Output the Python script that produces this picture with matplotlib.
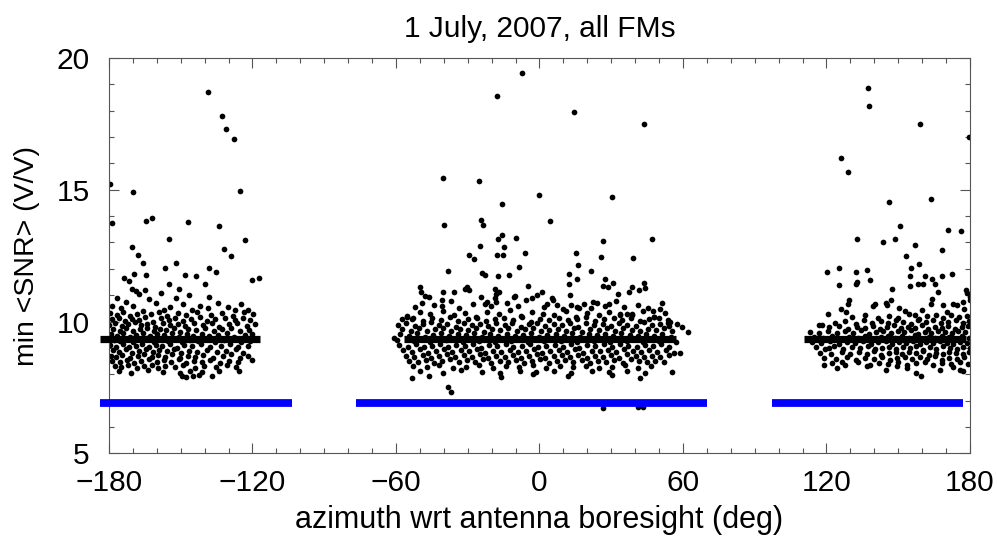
import numpy as np
import matplotlib
matplotlib.use("Agg")  # no display
import matplotlib.pyplot as plt
from matplotlib.ticker import MultipleLocator

plt.rcParams["font.family"] = ["Liberation Sans", "DejaVu Sans"]

# ── data (azimuth deg, min <SNR> V/V) ─────────────────────────────────────

left_pts = [
    # upper scatter
    (-179.6, 15.23), (-178.9, 13.75), (-169.8, 14.91), (-138.7, 18.72), (-132.8, 17.8),
    (-131.1, 17.32), (-127.7, 16.94), (-125.2, 14.96), (-164.7, 13.80), (-161.9, 13.92),
    (-146.8, 13.78), (-133.9, 13.64), (-155.0, 13.13), (-123.3, 13.11), (-170.4, 12.84),
    (-131.9, 12.76), (-168.0, 12.54), (-165.7, 12.24), (-129.1, 12.50), (-173.9, 11.65),
    (-171.6, 11.52), (-169.7, 11.80), (-164.7, 11.78), (-156.5, 12.03), (-152.0, 12.23),
    (-138.3, 12.03), (-135.1, 11.89), (-148.4, 11.75), (-143.5, 11.71), (-155.1, 11.44),
    (-140.0, 11.43), (-120.1, 11.59), (-117.3, 11.67), (-170.4, 11.23), (-150.6, 11.25),
    (-176.5, 10.9), (-172.8, 10.75), (-170.1, 10.6), (-167.4, 11.05), (-163.2, 10.85),
    (-160.3, 10.7), (-158.2, 11.1), (-154.6, 10.55), (-151.9, 10.9), (-149.0, 10.65),
    (-145.3, 10.45), (-142.1, 10.6), (-138.7, 10.5), (-134.4, 10.7), (-130.2, 10.55),
    (-127.5, 10.45), (-124.8, 10.65), (-121.9, 10.45), (-168.7, 11.15), (-165.0, 11.2),
    (-157.0, 10.45), (-174.8, 10.5), (-178.9, 10.6), (-146.5, 11.0), (-138.0, 10.95),
    # core
    (-179.5, 10.32), (-176.8, 10.25), (-174.0, 10.38), (-171.3, 10.22), (-168.2, 10.30),
    (-165.9, 10.41), (-162.4, 10.27), (-159.0, 10.35), (-155.7, 10.20), (-151.2, 10.33),
    (-147.8, 10.26), (-143.0, 10.37), (-137.5, 10.24), (-132.8, 10.31), (-128.0, 10.22),
    (-123.6, 10.36), (-119.8, 10.28),
    (-178.7, 10.08), (-175.9, 10.15), (-173.1, 10.02), (-170.4, 10.11), (-167.6, 10.05),
    (-164.8, 10.17), (-161.5, 10.00), (-158.3, 10.12), (-155.0, 10.06), (-152.4, 10.14),
    (-149.1, 10.03), (-145.7, 10.10), (-141.9, 10.16), (-139.0, 10.01), (-135.6, 10.09),
    (-131.4, 10.13), (-127.3, 10.04), (-124.0, 10.12), (-121.1, 10.07),
    (-179.8, 9.88), (-177.3, 9.94), (-174.6, 9.83), (-172.0, 9.91), (-169.2, 9.97),
    (-166.5, 9.85), (-163.9, 9.92), (-160.8, 9.80), (-157.4, 9.95), (-154.3, 9.87),
    (-151.0, 9.90), (-148.2, 9.82), (-144.6, 9.96), (-140.7, 9.86), (-137.1, 9.93),
    (-133.9, 9.81), (-130.0, 9.89), (-126.5, 9.95), (-122.4, 9.84), (-119.0, 9.90),
    (-178.2, 9.72), (-175.5, 9.66), (-172.8, 9.75), (-170.0, 9.63), (-167.1, 9.70),
    (-164.3, 9.77), (-161.2, 9.65), (-158.7, 9.73), (-156.0, 9.68), (-152.9, 9.76),
    (-150.1, 9.62), (-146.9, 9.71), (-143.5, 9.67), (-139.8, 9.74), (-136.2, 9.64),
    (-132.7, 9.70), (-128.9, 9.76), (-125.1, 9.63), (-121.6, 9.69),
    (-179.3, 9.52), (-176.6, 9.46), (-174.0, 9.55), (-171.4, 9.43), (-168.5, 9.50),
    (-165.6, 9.57), (-162.9, 9.45), (-159.8, 9.53), (-157.1, 9.48), (-153.8, 9.56),
    (-150.8, 9.42), (-147.5, 9.51), (-144.8, 9.47), (-141.2, 9.54), (-138.3, 9.44),
    (-134.5, 9.50), (-130.8, 9.56), (-127.8, 9.43), (-123.2, 9.49), (-120.1, 9.53),
    (-178.0, 9.31), (-175.2, 9.25), (-172.5, 9.34), (-169.8, 9.22), (-166.8, 9.29),
    (-164.0, 9.36), (-161.0, 9.24), (-158.0, 9.32), (-155.3, 9.27), (-152.1, 9.35),
    (-149.4, 9.21), (-146.2, 9.30), (-142.7, 9.26), (-139.4, 9.33), (-135.8, 9.23),
    (-132.1, 9.29), (-128.4, 9.35), (-124.6, 9.22), (-121.0, 9.28),
    (-179.6, 9.11), (-176.9, 9.05), (-174.3, 9.14), (-171.7, 9.02), (-168.9, 9.09),
    (-166.2, 9.16), (-163.4, 9.04), (-160.5, 9.12), (-157.8, 9.07), (-154.6, 9.15),
    (-151.5, 9.01), (-148.6, 9.10), (-145.4, 9.06), (-141.6, 9.13), (-137.7, 9.03),
    (-133.3, 9.09), (-129.6, 9.15), (-126.0, 9.02), (-122.0, 9.08),
    (-178.4, 8.91), (-175.7, 8.85), (-173.0, 8.94), (-170.3, 8.82), (-167.5, 8.89),
    (-164.6, 8.96), (-161.7, 8.84), (-158.9, 8.92), (-155.9, 8.87), (-153.0, 8.95),
    (-149.8, 8.81), (-146.6, 8.90), (-143.2, 8.86), (-139.1, 8.93), (-134.9, 8.83),
    (-131.0, 8.89), (-127.0, 8.95), (-123.9, 8.82),
    (-179.1, 8.71), (-177.0, 8.65), (-174.5, 8.74), (-171.2, 8.62), (-168.0, 8.69),
    (-165.3, 8.76), (-162.2, 8.64), (-159.5, 8.72), (-156.6, 8.67), (-153.5, 8.75),
    (-150.3, 8.61), (-147.1, 8.70), (-144.0, 8.66), (-140.5, 8.73), (-136.6, 8.63),
    (-132.4, 8.69), (-128.8, 8.75), (-125.3, 8.62), (-121.8, 8.68),
    (-178.6, 8.52), (-175.4, 8.45), (-172.3, 8.55), (-169.5, 8.43), (-166.4, 8.50),
    (-163.1, 8.57), (-160.1, 8.46), (-157.2, 8.53), (-154.0, 8.48), (-150.9, 8.56),
    (-147.9, 8.42), (-144.5, 8.51), (-141.0, 8.47), (-137.9, 8.54), (-133.6, 8.44),
    (-129.9, 8.50), (-126.2, 8.48), (-120.3, 8.54),
    (-177.6, 8.32), (-174.8, 8.26), (-171.9, 8.35), (-168.3, 8.24), (-165.2, 8.30),
    (-162.1, 8.37), (-159.3, 8.25), (-156.4, 8.33), (-152.6, 8.28), (-148.9, 8.36),
    (-144.1, 8.22), (-140.2, 8.31), (-135.3, 8.27), (-130.5, 8.34), (-126.7, 8.29),
    (-176.0, 8.12), (-170.8, 8.06), (-163.6, 8.15), (-157.6, 8.09), (-150.5, 8.05),
    (-146.0, 8.13), (-140.9, 8.08), (-134.0, 8.11), (-125.5, 8.14),
    (-149.6, 7.95), (-147.8, 7.88), (-144.8, 7.95), (-142.3, 7.97), (-137.0, 7.93),
]

mid_pts = [
    # upper scatter
    (-7.2, 19.42), (-17.7, 18.56), (14.4, 17.94), (43.9, 17.48), (-40.4, 15.43),
    (-25.3, 15.33), (-0.1, 14.8), (30.4, 14.74), (-15.5, 14.47), (-39.9, 13.68),
    (-24.4, 13.85), (-23.6, 13.66), (4.5, 13.83), (-15.7, 13.3), (-17.4, 13.13),
    (-9.7, 13.18), (26.6, 13.07), (46.9, 13.13), (-25.0, 12.88), (-14.7, 12.81),
    (-29.5, 12.54), (-27.3, 12.37), (-17.7, 12.53), (-15.4, 12.53), (-6.2, 12.60),
    (15.1, 12.60), (25.9, 12.44), (38.9, 12.43), (16.2, 12.14), (-8.5, 12.08),
    (-38.2, 11.92), (-24.0, 11.86), (-22.8, 11.77), (-17.2, 11.73), (-12.8, 11.75),
    (12.3, 11.80), (12.3, 11.42), (15.5, 11.6), (21.6, 11.92), (27.5, 11.6),
    (30.8, 11.45), (26.4, 11.36), (28.5, 11.32), (38.5, 11.32), (43.8, 11.45),
    (44.3, 11.29), (41.7, 11.18), (37.5, 11.14), (-50.0, 11.32), (-49.4, 11.13),
    (-47.8, 10.97), (-49.0, 10.71), (-40.5, 11.13), (-35.9, 11.13), (-31.2, 11.24),
    (-29.4, 11.2), (-30.2, 11.3), (-18.6, 11.25), (-16.8, 11.12), (-18.2, 11.06),
    (-10.6, 10.94), (-4.7, 11.36), (0.9, 11.13), (-1.2, 11.0), (-3.3, 10.88),
    (5.7, 10.81), (3.0, 10.68), (13.1, 10.62), (15.5, 10.56), (16.5, 10.53),
    (22.4, 10.75), (23.9, 10.71), (28.9, 10.68), (-40.7, 10.81), (-40.9, 10.59),
    (-22.8, 10.68), (-22.1, 10.74), (-18.6, 10.91), (-18.0, 10.74), (50.4, 10.47),
    (47.6, 10.39), (47.9, 10.19), (33.6, 10.23), (36.4, 10.28), (38.8, 10.29),
    (53.6, 9.95), (54.6, 9.99), (59.4, 9.8), (62.2, 9.61), (58.7, 8.79),
    (55.4, 8.08), (-55.3, 10.17), (-53.2, 10.08), (-60.9, 9.36),
    (-52.0, 10.55), (-44.3, 10.62), (-37.2, 10.78), (-33.5, 10.52), (-27.8, 10.66),
    (-20.4, 10.58), (-13.6, 10.71), (-8.9, 10.60), (-5.5, 10.83), (1.8, 10.55),
    (7.4, 10.64), (9.8, 10.49), (18.6, 10.68), (21.4, 10.52), (27.3, 10.60),
    (31.9, 10.79), (35.2, 10.55), (41.0, 10.62), (45.5, 10.50), (51.1, 10.70),
    (-24.6, 10.92), (-10.2, 10.98), (5.2, 10.90), (12.6, 11.02), (-46.0, 10.95),
    (33.0, 11.05),
    # core
    (-55.3, 10.22), (-50.1, 10.35), (-45.7, 10.28), (-40.2, 10.41), (-35.8, 10.25),
    (-31.0, 10.33), (-26.4, 10.19), (-21.9, 10.38), (-17.0, 10.27), (-12.3, 10.44),
    (-7.8, 10.21), (-3.1, 10.36), (1.6, 10.30), (6.2, 10.24), (10.9, 10.40),
    (15.3, 10.18), (20.0, 10.32), (24.8, 10.26), (29.1, 10.37), (33.6, 10.29),
    (38.8, 10.23), (43.2, 10.39), (47.9, 10.19), (52.4, 10.31),
    (-57.5, 10.08), (-53.0, 10.14), (-48.6, 10.01), (-44.9, 10.12), (-41.3, 10.05),
    (-37.6, 10.17), (-33.9, 10.03), (-29.8, 10.10), (-26.1, 10.15), (-22.5, 10.02),
    (-18.8, 10.09), (-14.9, 10.13), (-11.2, 10.06), (-7.4, 10.16), (-3.6, 10.00),
    (0.3, 10.11), (4.1, 10.07), (8.0, 10.14), (11.8, 10.04), (15.6, 10.10),
    (19.5, 10.16), (23.2, 10.02), (27.1, 10.08), (31.0, 10.13), (34.7, 10.05),
    (38.3, 10.12), (42.1, 10.01), (46.0, 10.09), (49.8, 10.15), (53.9, 10.04),
    (-59.0, 9.88), (-55.6, 9.94), (-52.1, 9.83), (-48.8, 9.91), (-45.3, 9.97),
    (-42.0, 9.85), (-38.6, 9.92), (-35.1, 9.80), (-31.7, 9.95), (-28.4, 9.87),
    (-24.9, 9.90), (-21.5, 9.82), (-18.1, 9.96), (-14.6, 9.86), (-11.3, 9.93),
    (-7.9, 9.81), (-4.4, 9.89), (-1.0, 9.95), (2.4, 9.84), (5.9, 9.90),
    (9.3, 9.87), (12.7, 9.93), (16.2, 9.81), (19.6, 9.96), (23.0, 9.85),
    (26.5, 9.91), (29.9, 9.83), (33.3, 9.94), (36.8, 9.88), (40.2, 9.82),
    (43.6, 9.97), (47.1, 9.86), (50.5, 9.92), (54.0, 9.84), (57.4, 9.89),
    (-57.3, 9.72), (-53.9, 9.66), (-50.5, 9.75), (-47.0, 9.63), (-43.6, 9.70),
    (-40.3, 9.77), (-36.8, 9.65), (-33.4, 9.73), (-30.0, 9.68), (-26.6, 9.76),
    (-23.2, 9.62), (-19.8, 9.71), (-16.4, 9.67), (-13.0, 9.74), (-9.6, 9.64),
    (-6.1, 9.70), (-2.7, 9.76), (0.7, 9.63), (4.1, 9.69), (7.6, 9.73),
    (11.0, 9.66), (14.4, 9.75), (17.9, 9.62), (21.3, 9.71), (24.7, 9.68),
    (28.2, 9.74), (31.6, 9.64), (35.0, 9.77), (38.5, 9.69), (41.9, 9.65),
    (45.3, 9.72), (48.8, 9.67), (52.2, 9.74), (55.6, 9.63),
    (-58.2, 9.52), (-54.7, 9.46), (-51.3, 9.55), (-47.9, 9.43), (-44.4, 9.50),
    (-41.1, 9.57), (-37.7, 9.45), (-34.2, 9.53), (-30.8, 9.48), (-27.5, 9.56),
    (-24.0, 9.42), (-20.6, 9.51), (-17.2, 9.47), (-13.7, 9.54), (-10.4, 9.44),
    (-7.0, 9.50), (-3.5, 9.56), (-0.1, 9.43), (3.3, 9.49), (6.8, 9.53),
    (10.2, 9.46), (13.6, 9.55), (17.1, 9.42), (20.5, 9.51), (23.9, 9.48),
    (27.4, 9.54), (30.8, 9.44), (34.2, 9.57), (37.7, 9.49), (41.1, 9.45),
    (44.5, 9.52), (48.0, 9.47), (51.4, 9.54), (54.9, 9.43),
    (-59.5, 9.31), (-52.6, 9.25), (-45.7, 9.22), (-39.0, 9.29), (-32.1, 9.24),
    (-25.3, 9.27), (-18.5, 9.21), (-11.7, 9.26), (-4.8, 9.23), (2.0, 9.28),
    (8.9, 9.25), (15.8, 9.21), (22.6, 9.27), (29.5, 9.23), (36.4, 9.28),
    (43.2, 9.24), (50.1, 9.26), (57.0, 9.22),
    (-58.6, 9.11), (-55.1, 9.05), (-51.8, 9.14), (-48.3, 9.02), (-44.9, 9.09),
    (-41.6, 9.16), (-38.2, 9.04), (-34.7, 9.12), (-31.3, 9.07), (-28.0, 9.15),
    (-24.5, 9.01), (-21.1, 9.10), (-17.7, 9.06), (-14.2, 9.13), (-10.9, 9.03),
    (-7.5, 9.09), (-4.0, 9.15), (-0.6, 9.02), (2.8, 9.08), (6.3, 9.12),
    (9.7, 9.05), (13.1, 9.14), (16.6, 9.01), (20.0, 9.10), (23.4, 9.07),
    (26.9, 9.13), (30.3, 9.03), (33.7, 9.16), (37.2, 9.08), (40.6, 9.04),
    (44.0, 9.11), (47.5, 9.06), (50.9, 9.13), (54.3, 9.02),
    (-57.0, 8.91), (-53.4, 8.85), (-50.0, 8.94), (-46.6, 8.82), (-43.1, 8.89),
    (-39.8, 8.96), (-36.4, 8.84), (-32.9, 8.92), (-29.5, 8.87), (-26.2, 8.95),
    (-22.7, 8.81), (-19.3, 8.90), (-15.9, 8.86), (-12.4, 8.93), (-9.1, 8.83),
    (-5.7, 8.89), (-2.2, 8.95), (1.2, 8.82), (4.6, 8.88), (8.1, 8.92),
    (11.5, 8.85), (14.9, 8.94), (18.4, 8.81), (21.8, 8.90), (25.2, 8.87),
    (28.7, 8.93), (32.1, 8.83), (35.5, 8.96), (39.0, 8.88), (42.4, 8.84),
    (45.8, 8.91), (49.3, 8.86), (52.7, 8.93), (56.1, 8.82),
    (-55.8, 8.71), (-52.3, 8.65), (-48.9, 8.74), (-45.4, 8.62), (-42.0, 8.69),
    (-38.6, 8.76), (-35.2, 8.64), (-31.7, 8.72), (-28.3, 8.67), (-24.9, 8.75),
    (-21.5, 8.61), (-18.0, 8.70), (-14.6, 8.66), (-11.2, 8.73), (-7.8, 8.63),
    (-4.3, 8.69), (-0.9, 8.75), (2.5, 8.62), (5.9, 8.68), (9.4, 8.72),
    (12.8, 8.65), (16.2, 8.74), (19.7, 8.61), (23.1, 8.70), (26.5, 8.67),
    (30.0, 8.73), (33.4, 8.63), (36.8, 8.76), (40.3, 8.68), (43.7, 8.64),
    (47.1, 8.71), (50.6, 8.66), (54.0, 8.73),
    (-54.4, 8.52), (-50.9, 8.45), (-47.5, 8.55), (-44.0, 8.43), (-40.7, 8.50),
    (-37.3, 8.57), (-33.8, 8.46), (-30.4, 8.53), (-27.0, 8.48), (-23.6, 8.56),
    (-20.1, 8.42), (-16.7, 8.51), (-13.3, 8.47), (-9.9, 8.54), (-6.4, 8.44),
    (-3.0, 8.50), (0.4, 8.56), (3.9, 8.43), (7.3, 8.49), (10.7, 8.53),
    (14.2, 8.46), (17.6, 8.55), (21.0, 8.42), (24.5, 8.51), (27.9, 8.48),
    (31.3, 8.54), (34.8, 8.44), (38.2, 8.57), (41.6, 8.49), (45.1, 8.45),
    (48.5, 8.52), (51.9, 8.47),
    (-53.0, 8.31), (-47.2, 8.26), (-41.9, 8.35), (-36.0, 8.22), (-30.7, 8.29),
    (-25.4, 8.36), (-19.6, 8.24), (-14.0, 8.32), (-8.5, 8.27), (-2.8, 8.34),
    (2.9, 8.23), (8.6, 8.30), (14.0, 8.26), (19.4, 8.33), (24.9, 8.22),
    (30.4, 8.29), (35.9, 8.35), (41.4, 8.24), (46.7, 8.30),
    (-49.8, 8.12), (-40.5, 8.06), (-33.0, 8.15), (-24.1, 8.09), (-16.3, 8.04),
    (-8.0, 8.13), (-1.5, 8.08), (6.0, 8.11), (13.3, 8.05), (22.0, 8.14),
    (29.0, 8.07), (36.5, 8.12), (44.0, 8.06),
    # low tail
    (-16.0, 7.9), (-2.6, 8.0), (42.0, 7.85), (12.0, 7.95), (30.5, 7.98),
    (-53.2, 7.84), (-46.2, 7.95), (-38.4, 7.53), (-37.0, 7.34),
    (26.4, 6.71), (41.3, 6.74), (43.4, 6.74),
]

right_pts = [
    # upper scatter
    (137.2, 18.87), (137.7, 18.19), (159.2, 17.51), (179.7, 17.0), (126.0, 16.2),
    (128.9, 15.66), (146.2, 14.53), (163.8, 14.65), (150.7, 13.63), (170.9, 13.49),
    (176.2, 13.45), (132.6, 13.14), (143.6, 13.0), (148.5, 13.15), (157.0, 12.91),
    (168.1, 12.7), (153.4, 12.49), (158.6, 12.18), (155.5, 12.02), (155.1, 11.74),
    (125.3, 12.05), (120.3, 11.88), (132.3, 11.88), (136.8, 11.95), (132.6, 11.5),
    (132.3, 11.42), (125.2, 11.38), (138.2, 11.57), (161.4, 11.73), (164.2, 11.6),
    (168.4, 11.71), (172.3, 11.79), (160.4, 11.42), (158.3, 11.41), (165.3, 11.44),
    (166.7, 11.12), (154.8, 11.34), (147.2, 11.25), (178.5, 11.19),
    (140.2, 10.68), (139.5, 10.6), (144.8, 10.71), (145.1, 10.62), (146.9, 10.83),
    (152.8, 10.40), (157.0, 10.24), (164.2, 10.86), (163.9, 10.68), (168.8, 10.62),
    (173.0, 10.68), (174.4, 10.62), (177.4, 10.49), (178.7, 11.07), (179.8, 10.94),
    (129.5, 10.81), (129.0, 10.68), (125.9, 10.49), (128.1, 10.36), (120.7, 10.30),
    (176.9, 10.74), (179.9, 10.81), (160.1, 10.45), (150.3, 10.52), (170.6, 10.35),
    # core
    (130.8, 10.18), (136.2, 10.25), (141.5, 10.12), (146.3, 10.22), (149.9, 10.15),
    (154.4, 10.28), (158.8, 10.10), (162.1, 10.20), (165.6, 10.26), (168.9, 10.13),
    (172.2, 10.24), (175.6, 10.17), (178.8, 10.21),
    (116.9, 9.87), (118.2, 9.87), (123.5, 9.95), (127.9, 10.02), (132.3, 9.91),
    (135.7, 10.05), (139.0, 9.96), (142.6, 10.01), (145.8, 9.93), (148.9, 10.06),
    (152.0, 9.98), (155.2, 9.92), (158.3, 10.04), (161.5, 9.97), (164.6, 10.07),
    (167.8, 9.94), (170.9, 10.00), (174.0, 10.05), (177.2, 9.95), (179.6, 10.02),
    (121.0, 9.78), (125.3, 9.84), (129.1, 9.72), (132.6, 9.80), (136.0, 9.76),
    (139.3, 9.83), (142.4, 9.70), (145.5, 9.79), (148.4, 9.85), (151.3, 9.74),
    (154.1, 9.81), (157.0, 9.77), (159.8, 9.86), (162.6, 9.73), (165.4, 9.80),
    (168.2, 9.75), (171.0, 9.84), (173.8, 9.71), (176.6, 9.79), (179.2, 9.82),
    (113.0, 9.62), (116.8, 9.57), (120.6, 9.66), (124.4, 9.55), (127.8, 9.63),
    (131.2, 9.58), (134.5, 9.67), (137.7, 9.54), (140.8, 9.61), (143.8, 9.65),
    (146.8, 9.56), (149.7, 9.64), (152.6, 9.59), (155.5, 9.68), (158.3, 9.53),
    (161.1, 9.62), (163.9, 9.57), (166.7, 9.66), (169.5, 9.60), (172.3, 9.55),
    (175.1, 9.64), (177.9, 9.59),
    (114.8, 9.42), (118.5, 9.37), (122.3, 9.46), (126.1, 9.35), (129.6, 9.43),
    (133.0, 9.38), (136.3, 9.47), (139.5, 9.34), (142.6, 9.41), (145.6, 9.45),
    (148.5, 9.36), (151.4, 9.44), (154.3, 9.39), (157.1, 9.48), (159.9, 9.33),
    (162.7, 9.42), (165.5, 9.37), (168.3, 9.46), (171.1, 9.40), (173.9, 9.35),
    (176.7, 9.44), (179.4, 9.39),
    (113.9, 9.22), (117.6, 9.17), (121.4, 9.26), (125.2, 9.15), (128.7, 9.23),
    (132.1, 9.18), (135.4, 9.27), (138.6, 9.14), (141.7, 9.21), (144.7, 9.25),
    (147.6, 9.16), (150.5, 9.24), (153.4, 9.19), (156.2, 9.28), (159.0, 9.13),
    (161.8, 9.22), (164.6, 9.17), (167.4, 9.26), (170.2, 9.20), (173.0, 9.15),
    (175.8, 9.24), (178.6, 9.19),
    (115.7, 9.02), (119.5, 8.97), (123.3, 9.06), (127.0, 8.95), (130.5, 9.03),
    (133.9, 8.98), (137.2, 9.07), (140.3, 8.94), (143.3, 9.01), (146.2, 9.05),
    (149.1, 8.96), (152.0, 9.04), (154.8, 8.99), (157.6, 9.08), (160.4, 8.93),
    (163.2, 9.02), (166.0, 8.97), (168.8, 9.06), (171.6, 9.00), (174.4, 8.95),
    (177.2, 9.04), (179.8, 8.99),
    (117.2, 8.82), (121.9, 8.77), (126.3, 8.86), (130.0, 8.75), (133.5, 8.83),
    (136.8, 8.78), (140.0, 8.87), (143.0, 8.74), (146.0, 8.81), (148.9, 8.85),
    (151.7, 8.76), (154.6, 8.84), (157.4, 8.79), (160.2, 8.88), (163.0, 8.73),
    (165.8, 8.82), (168.6, 8.77), (171.4, 8.86), (174.2, 8.80), (177.0, 8.75),
    (179.7, 8.84),
    (119.0, 8.62), (124.0, 8.57), (128.4, 8.66), (132.5, 8.55), (136.2, 8.63),
    (139.7, 8.58), (143.1, 8.67), (146.4, 8.54), (149.6, 8.61), (152.8, 8.65),
    (155.9, 8.56), (159.0, 8.64), (162.1, 8.59), (165.2, 8.68), (168.3, 8.53),
    (171.4, 8.62), (174.5, 8.57), (177.6, 8.66),
    (122.5, 8.42), (127.6, 8.37), (133.0, 8.46), (138.1, 8.35), (142.0, 8.43),
    (145.9, 8.38), (149.8, 8.47), (153.6, 8.34), (157.3, 8.41), (161.0, 8.45),
    (164.7, 8.36), (168.4, 8.44), (172.1, 8.39), (175.8, 8.48), (179.1, 8.40),
    # low tail
    (118.9, 8.37), (124.2, 8.22), (126.3, 8.47), (121.0, 9.01), (136.8, 8.32),
    (144.8, 8.18), (149.3, 8.32), (153.5, 8.25), (157.6, 8.03), (159.7, 7.93),
    (167.4, 8.15), (173.0, 8.27), (175.8, 8.17), (177.2, 8.12),
]

# typical level per sector (black) and threshold (blue)
mean_snr = 9.35
mean_ranges = [(-183.8, -116.9), (-56.7, 57.0), (110.6, 178.5)]
thresh_snr = 6.92
thresh_ranges = [(-183.8, -103.5), (-76.7, 70.2), (97.3, 177.2)]

# ── plot ──────────────────────────────────────────────────────────────────

fig = plt.figure(figsize=(9.97, 5.38), dpi=100)
ax = fig.add_axes([0.1093, 0.1574, 0.8636, 0.7348])

pts = np.array(left_pts + mid_pts + right_pts)
ax.plot(pts[:, 0], pts[:, 1], "o", color="black", ms=4.1, mew=0, zorder=2)

for a, b in mean_ranges:
    ax.plot([a, b], [mean_snr, mean_snr], color="black", lw=5.2,
            solid_capstyle="butt", clip_on=False, zorder=3)
for a, b in thresh_ranges:
    ax.plot([a, b], [thresh_snr, thresh_snr], color="#0000ff", lw=5.6,
            solid_capstyle="butt", clip_on=False, zorder=3)

ax.set_xlim(-180, 180)
ax.set_ylim(5, 20)
ax.xaxis.set_major_locator(MultipleLocator(60))
ax.xaxis.set_minor_locator(MultipleLocator(10))
ax.yaxis.set_major_locator(MultipleLocator(5))
ax.yaxis.set_minor_locator(MultipleLocator(1))

ax.tick_params(which="both", direction="in", top=True, right=True,
               color="#555555", width=0.8)
ax.tick_params(which="major", length=7, labelsize=21.5)
ax.tick_params(which="minor", length=3.5)
ax.tick_params(axis="x", which="major", pad=11)
ax.tick_params(axis="y", which="major", pad=14)
for s in ax.spines.values():
    s.set_color("#555555")
    s.set_linewidth(0.8)

ax.set_title("1 July, 2007, all FMs", fontsize=21.5, pad=15)
ax.set_xlabel("azimuth wrt antenna boresight (deg)", fontsize=22, labelpad=6)
ax.set_ylabel("min <SNR> (V/V)", fontsize=20.5, labelpad=12)

fig.savefig("out.png", dpi=100)
